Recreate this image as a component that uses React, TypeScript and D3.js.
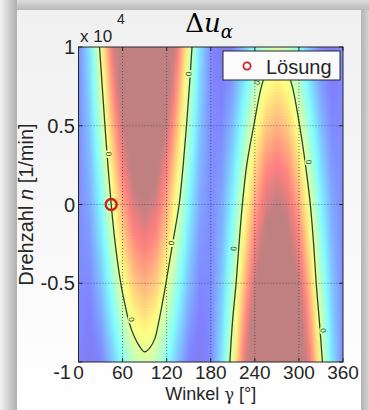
import React, { useMemo } from 'react';
import * as d3 from 'd3';

// surface grid: angle gamma [deg] x speed n [x10^4 1/min]
const gammaGrid = [0, 15, 30, 45, 60, 75, 90, 105, 120, 135, 150, 165, 180, 195, 210, 225, 240, 255, 270, 285, 300, 315, 330, 345, 360];
const nGrid = [1, 0.75, 0.5, 0.25, 0, -0.25, -0.5, -0.75, -1];

// Δu_α, one row per n value
const duRowP100 = [-1, -0.59, 0.04, 0.76, 1.43, 1.9, 2.07, 1.9, 1.43, 0.76, 0.04, -0.59, -1, -1.14, -1.04, -0.76, -0.43, -0.17, -0.07, -0.17, -0.43, -0.76, -1.04, -1.14, -1];
const duRowP075 = [-1, -0.66, -0.1, 0.57, 1.2, 1.64, 1.8, 1.64, 1.2, 0.57, -0.1, -0.66, -1, -1.07, -0.9, -0.57, -0.2, 0.09, 0.2, 0.09, -0.2, -0.57, -0.9, -1.07, -1];
const duRowP050 = [-1, -0.73, -0.23, 0.38, 0.96, 1.38, 1.54, 1.38, 0.96, 0.38, -0.23, -0.73, -1, -1.01, -0.77, -0.38, 0.04, 0.35, 0.47, 0.35, 0.04, -0.38, -0.77, -1.01, -1];
const duRowP025 = [-1, -0.8, -0.37, 0.19, 0.73, 1.12, 1.27, 1.12, 0.73, 0.19, -0.37, -0.8, -1, -0.94, -0.63, -0.19, 0.27, 0.61, 0.73, 0.61, 0.27, -0.19, -0.63, -0.94, -1];
const duRowZero = [-1, -0.87, -0.5, 0, 0.5, 0.87, 1, 0.87, 0.5, 0, -0.5, -0.87, -1, -0.87, -0.5, 0, 0.5, 0.87, 1, 0.87, 0.5, 0, -0.5, -0.87, -1];
const duRowM025 = [-1, -0.94, -0.63, -0.19, 0.27, 0.61, 0.73, 0.61, 0.27, -0.19, -0.63, -0.94, -1, -0.8, -0.37, 0.19, 0.73, 1.12, 1.27, 1.12, 0.73, 0.19, -0.37, -0.8, -1];
const duRowM050 = [-1, -1.01, -0.77, -0.38, 0.04, 0.35, 0.47, 0.35, 0.04, -0.38, -0.77, -1.01, -1, -0.73, -0.23, 0.38, 0.96, 1.38, 1.54, 1.38, 0.96, 0.38, -0.23, -0.73, -1];
const duRowM075 = [-1, -1.07, -0.9, -0.57, -0.2, 0.09, 0.2, 0.09, -0.2, -0.57, -0.9, -1.07, -1, -0.66, -0.1, 0.57, 1.2, 1.64, 1.8, 1.64, 1.2, 0.57, -0.1, -0.66, -1];
const duRowM100 = [-1, -1.14, -1.04, -0.76, -0.43, -0.17, -0.07, -0.17, -0.43, -0.76, -1.04, -1.14, -1, -0.59, 0.04, 0.76, 1.43, 1.9, 2.07, 1.9, 1.43, 0.76, 0.04, -0.59, -1];
const duRows = [duRowP100, duRowP075, duRowP050, duRowP025, duRowZero, duRowM025, duRowM050, duRowM075, duRowM100];

// zero contour lines [gamma, n]
const contourLeft: [number, number][] = [
  [28.6, 1], [32.3, 0.75], [36, 0.5], [40, 0.25], [44.5, 0], [50, -0.25], [57.5, -0.5], [63, -0.63],
  [69, -0.75], [76, -0.84], [83, -0.9], [90, -0.935], [97, -0.91], [104, -0.85], [109, -0.75], [114, -0.63],
  [119, -0.5], [128, -0.25], [137, 0], [142.5, 0.25], [147, 0.5], [151, 0.75], [154.5, 1],
];
const contourRight: [number, number][] = [
  [206, -1], [209.5, -0.75], [214.5, -0.5], [218.5, -0.25], [223, 0], [229, 0.25], [238.5, 0.5], [249, 0.75],
  [256, 0.85], [262, 0.91], [270, 0.935], [278, 0.91], [284, 0.85], [291, 0.75], [301, 0.5], [309, 0.25],
  [315.5, 0], [320, -0.25], [323.5, -0.5], [328, -0.75], [332, -1],
];
const contourLabels: [number, number][] = [
  [41, 0.32], [72, -0.73], [150, 0.83], [126.5, -0.245], [243, 0.775], [313, 0.27], [211, -0.28], [333, -0.8],
];
const solution: [number, number] = [44.5, 0];

const xTicks = [0, 60, 120, 180, 240, 300, 360];
const yTicks = [1, 0.5, 0, -0.5, -1];
const yTickLabels = ['1', '0.5', '0', '-0.5', '-1'];

// jet, half transparent over white
const jetStops = [0, 0.125, 0.375, 0.625, 0.875, 1];
const jetColors = ['#8080c0', '#8080ff', '#80ffff', '#ffff80', '#ff8080', '#c08080'];
// colour limits: Δu_α -> position in the colormap
const climValues = [-1.2, 0, 1];
const climLevels = [0.06, 0.58, 1];

const SANS = "'Liberation Sans', Arial, sans-serif";
const INK = '#262626';

export default function App() {
  const width = 369;
  const height = 410;
  const x = d3.scaleLinear().domain([0, 360]).range([78.5, 343]);
  const y = d3.scaleLinear().domain([-1, 1]).range([362, 47]);
  const toLevel = d3.scaleLinear().domain(climValues).range(climLevels).clamp(true);
  const jet = d3.scaleLinear<string>().domain(jetStops).range(jetColors).interpolate(d3.interpolateRgb);
  const colIdx = d3.scaleLinear().domain([gammaGrid[0], gammaGrid[gammaGrid.length - 1]]).range([0, gammaGrid.length - 1]);
  const rowIdx = d3.scaleLinear().domain([nGrid[0], nGrid[nGrid.length - 1]]).range([0, nGrid.length - 1]);

  const sample = (g: number, n: number) => {
    const ci = colIdx(g), ri = rowIdx(n);
    const c0 = Math.max(0, Math.min(Math.floor(ci), gammaGrid.length - 2));
    const r0 = Math.max(0, Math.min(Math.floor(ri), nGrid.length - 2));
    const tc = ci - c0, tr = ri - r0;
    const a = duRows[r0][c0] * (1 - tc) + duRows[r0][c0 + 1] * tc;
    const b = duRows[r0 + 1][c0] * (1 - tc) + duRows[r0 + 1][c0 + 1] * tc;
    return a * (1 - tr) + b * tr;
  };

  const bandH = 3;
  const bands = useMemo(() => {
    const out: { y0: number; stops: { o: number; c: string }[] }[] = [];
    for (let py = 47; py < 362; py += bandH) {
      const n = y.invert(py + bandH / 2);
      const stops = d3.range(0, 360.01, 5).map((g) => ({ o: g / 360, c: jet(toLevel(sample(g, n))) }));
      out.push({ y0: py, stops });
    }
    return out;
  }, []);

  const line = d3.line<[number, number]>()
    .x((d) => x(d[0]))
    .y((d) => y(d[1]))
    .curve(d3.curveCatmullRom);

  const labelAngle = (p: [number, number]) => {
    const px = x(p[0]), py = y(p[1]);
    let best = Infinity, ang = 0;
    [contourLeft, contourRight].forEach((c) => {
      for (let i = 0; i < c.length - 1; i++) {
        const ax = x(c[i][0]), ay = y(c[i][1]), bx = x(c[i + 1][0]), by = y(c[i + 1][1]);
        const d = Math.hypot((ax + bx) / 2 - px, (ay + by) / 2 - py);
        if (d < best) { best = d; ang = Math.atan2(by - ay, bx - ax) * 180 / Math.PI; }
      }
    });
    return ang;
  };

  const [x0, x1] = x.range();
  const [yb, yt] = y.range();

  return (
    <svg width={width} height={height} style={{ position: 'absolute', left: 0, top: 0, display: 'block' }}>
      <defs>
        <linearGradient id="leftEdge" x1="0" x2="1" y1="0" y2="0">
          <stop offset="0" stopColor="#f2f2f2" />
          <stop offset="1" stopColor="#b0b0b0" />
        </linearGradient>
        <linearGradient id="topEdge" x1="0" x2="0" y1="0" y2="1">
          <stop offset="0" stopColor="#dcdcdc" />
          <stop offset="1" stopColor="#b8b8b8" />
        </linearGradient>
        <linearGradient id="rightEdge" x1="0" x2="1" y1="0" y2="0">
          <stop offset="0" stopColor="#b4b4b4" />
          <stop offset="1" stopColor="#d4d4d4" />
        </linearGradient>
        <linearGradient id="panel" x1="0" x2="0" y1="0" y2="1">
          <stop offset="0" stopColor="#f0f0f0" />
          <stop offset="1" stopColor="#ffffff" />
        </linearGradient>
        {bands.map((b, i) => (
          <linearGradient key={i} id={`band${i}`} x1="0" x2="1" y1="0" y2="0">
            {b.stops.map((s, j) => <stop key={j} offset={s.o} stopColor={s.c} />)}
          </linearGradient>
        ))}
        <clipPath id="plotClip">
          <rect x={x0} y={yt} width={x1 - x0} height={yb - yt} />
        </clipPath>
        <mask id="labelGaps">
          <rect x={0} y={0} width={width} height={height} fill="white" />
          {contourLabels.map((p, i) => (
            <circle key={i} cx={x(p[0])} cy={y(p[1])} r={4} fill="black" />
          ))}
        </mask>
      </defs>

      <rect x={0} y={0} width={width} height={height} fill="#e0e0e0" />
      <rect x={0} y={0} width={17} height={height} fill="url(#leftEdge)" />
      <rect x={17} y={0} width={width - 17} height={10} fill="url(#topEdge)" />
      <rect x={361} y={10} width={8} height={height - 10} fill="url(#rightEdge)" />
      <rect x={17} y={10} width={344} height={height - 10} fill="url(#panel)" />

      <g clipPath="url(#plotClip)">
        <rect x={x0} y={yt} width={x1 - x0} height={yb - yt} fill="#ffffff" />
        {bands.map((b, i) => (
          <rect key={i} x={x0} y={b.y0} width={x1 - x0} height={bandH + 0.6} fill={`url(#band${i})`} />
        ))}
        {xTicks.slice(1, -1).map((t) => (
          <line key={t} x1={x(t)} x2={x(t)} y1={yt} y2={yb} stroke="#3a3a55" strokeWidth={0.9} strokeDasharray="1,2" opacity={0.75} />
        ))}
        {yTicks.slice(1, -1).map((t) => (
          <line key={t} x1={x0} x2={x1} y1={y(t)} y2={y(t)} stroke="#3a3a55" strokeWidth={0.9} strokeDasharray="1,2" opacity={0.75} />
        ))}
        <g mask="url(#labelGaps)" fill="none" stroke="#2c4530" strokeWidth={1.3}>
          <path d={line(contourLeft) || ''} />
          <path d={line(contourRight) || ''} />
        </g>
        {contourLabels.map((p, i) => (
          <text key={i} x={x(p[0])} y={y(p[1])} dy="0.35em" textAnchor="middle" fontFamily={SANS} fontSize={8}
            fill="#2c4530" transform={`rotate(${labelAngle(p)},${x(p[0])},${y(p[1])})`}>0</text>
        ))}
        <circle cx={x(solution[0])} cy={y(solution[1])} r={5.5} fill="none" stroke="#cc2222" strokeWidth={2.4} />
      </g>

      {/* axes box and ticks */}
      <rect x={x0} y={yt} width={x1 - x0} height={yb - yt} fill="none" stroke={INK} strokeWidth={1} />
      {xTicks.map((t) => (
        <g key={t}>
          <line x1={x(t)} x2={x(t)} y1={yb} y2={yb - 4} stroke={INK} />
          <line x1={x(t)} x2={x(t)} y1={yt} y2={yt + 4} stroke={INK} />
          <text x={x(t)} y={379} textAnchor="middle" fontFamily={SANS} fontSize={19} fill={INK}>{t}</text>
        </g>
      ))}
      {yTicks.map((t, i) => (
        <g key={t}>
          <line x1={x0} x2={x0 + 4} y1={y(t)} y2={y(t)} stroke={INK} />
          <line x1={x1} x2={x1 - 4} y1={y(t)} y2={y(t)} stroke={INK} />
          <text x={t === -1 ? 71 : 75} y={y(t) + (t === -1 ? 10 : 0)} dy="0.36em" textAnchor="end" fontFamily={SANS} fontSize={20} fill={INK}>
            {yTickLabels[i]}
          </text>
        </g>
      ))}

      <text x={80} y={42} fontFamily={SANS} fontSize={17} fill={INK}>x 10</text>
      <text x={117} y={24} fontFamily={SANS} fontSize={14} fill={INK}>4</text>

      <text x={209} y={32} textAnchor="middle" fontFamily="'DejaVu Serif', serif" fontSize={26} fill="#000">
        <tspan>Δ</tspan>
        <tspan fontStyle="italic">u</tspan>
        <tspan fontStyle="italic" fontSize={18} dy={6}>α</tspan>
      </text>

      <text x={(x0 + x1) / 2} y={400} textAnchor="middle" fontFamily={SANS} fontSize={18} fill={INK}>
        Winkel <tspan fontFamily="'DejaVu Serif', serif" fontSize={16}>γ</tspan> [°]
      </text>
      <text transform={`translate(33,${(yt + yb) / 2}) rotate(-90)`} textAnchor="middle" fontFamily={SANS} fontSize={20} fill={INK}>
        Drehzahl <tspan fontStyle="italic">n</tspan> [1/min]
      </text>

      {/* legend */}
      <rect x={223} y={51} width={117} height={29} fill="#fbfbfb" stroke={INK} strokeWidth={1} />
      <circle cx={247} cy={66} r={3.6} fill="none" stroke="#cc2222" strokeWidth={1.8} />
      <text x={266} y={73.5} fontFamily={SANS} fontSize={20} fill={INK}>Lösung</text>
    </svg>
  );
}
